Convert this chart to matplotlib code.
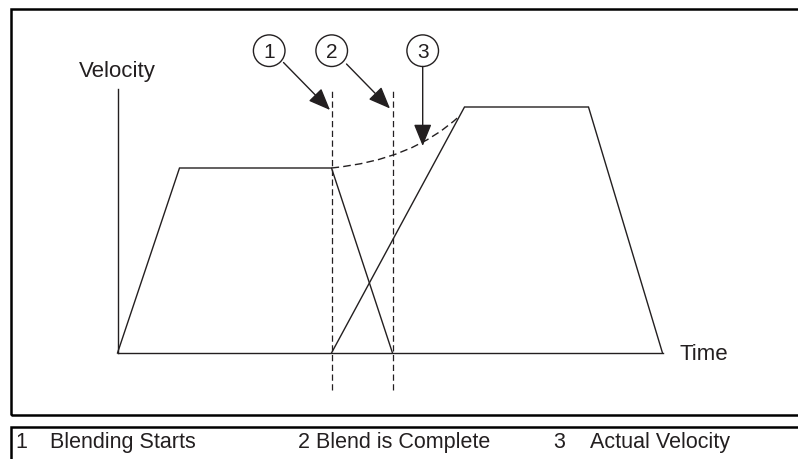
import matplotlib
matplotlib.use("Agg")
import matplotlib.pyplot as plt
from matplotlib.patches import Circle, FancyArrowPatch, PathPatch, Rectangle
from matplotlib.path import Path

plt.rcParams['font.family'] = ['Liberation Sans', 'DejaVu Sans']

# move profiles (time, velocity) in arbitrary units
move1_t = [0, 6.2, 21.4, 27.5]
move1_v = [0, 18.5, 18.5, 0]
move2_t = [21.4, 34.7, 47.1, 54.5]
move2_v = [0, 24.6, 24.6, 0]

blend_start = 21.4
blend_end = 27.5

# actual velocity during blend (quadratic bezier: start, control, end)
blend_curve_t = [21.4, 29.5, 34.2]
blend_curve_v = [18.5, 19.3, 23.7]

callout_labels = ["1", "2", "3"]
legend_texts = ["Blending Starts", "Blend is Complete", "Actual Velocity"]

ink = '#231f20'

fig = plt.figure(figsize=(7.98, 4.60), dpi=100)
ax = fig.add_axes([0, 0, 1, 1])
ax.set_xlim(-11.75, 68.05)
ax.set_ylim(-10.6, 35.4)
ax.axis('off')

# outer frames
ax.add_patch(Rectangle((-10.65, -6.2), 85, 40.6, fill=False, ec='black', lw=1.8))
ax.add_patch(Rectangle((-10.65, -15), 85, 7.62, fill=False, ec='black', lw=1.8))

# axes lines
ax.plot([0, 0], [0, 26.4], color=ink, lw=1.0)
ax.plot([0, move2_t[-1]], [0, 0], color=ink, lw=1.0)
ax.text(-3.9, 27.7, "Velocity", fontsize=16, color=ink, ha='left', va='baseline')
ax.text(56.2, -0.55, "Time", fontsize=16, color=ink, ha='left', va='baseline')

# velocity profiles
ax.plot(move1_t, move1_v, color=ink, lw=1.0, solid_joinstyle='miter')
ax.plot(move2_t, move2_v, color=ink, lw=1.0, solid_joinstyle='miter')

# blend markers
for t in [blend_start, blend_end]:
    ax.plot([t, t], [-3.7, 26.2], color=ink, lw=0.9, dashes=(5, 2.8))

verts = list(zip(blend_curve_t, blend_curve_v))
path = Path(verts, [Path.MOVETO, Path.CURVE3, Path.CURVE3])
ax.add_patch(PathPatch(path, fill=False, ec=ink, lw=1.0, linestyle=(0, (5.5, 3))))

# numbered callouts
circle_pos = [(15.17, 30.23), (21.42, 30.23), (30.52, 30.23)]
arrow_from = [(16.6, 29.05), (22.9, 28.9), (30.52, 28.65)]
arrow_to = [(21.25, 24.3), (27.25, 24.45), (30.52, 20.7)]
for lab, c, a0, a1 in zip(callout_labels, circle_pos, arrow_from, arrow_to):
    ax.add_patch(Circle(c, 1.58, fill=False, ec=ink, lw=1.0))
    ax.text(c[0], c[1] - 0.05, lab, fontsize=15, color=ink, ha='center', va='center')
    ax.add_patch(FancyArrowPatch(a0, a1, arrowstyle='-|>,head_length=1.35,head_width=0.55',
                                 mutation_scale=10, color=ink, lw=1.0,
                                 shrinkA=0, shrinkB=0))

# legend row
num_x = [-9.6, 18.6, 44.2]
txt_x = [-6.75, 19.8, 47.2]
for lab, txt, nx, tx in zip(callout_labels, legend_texts, num_x, txt_x):
    ax.text(nx, -9.43, lab, fontsize=15.5, color=ink, ha='center', va='baseline')
    ax.text(tx, -9.43, txt, fontsize=15.5, color=ink, ha='left', va='baseline')

fig.savefig("out.png", dpi=100)
